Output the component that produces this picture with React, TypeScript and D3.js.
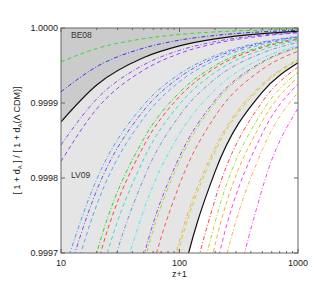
import React, { useEffect } from 'react';
import * as d3 from 'd3';

// z+1 sample positions shared by every curve
const zGrid = [10, 20, 50, 100, 200, 500, 1000];

// bounding curves of the shaded bands
const be08Bound = [0.9998749, 0.999924, 0.9999606, 0.9999761, 0.9999855, 0.9999925, 0.9999955];
const lv09Bound = [0.997332, 0.998548, 0.9993523, 0.9996478, 0.9998088, 0.9999146, 0.9999536];

// model curves (values at zGrid)
const curveValues = [
  [0.9999549, 0.9999726, 0.9999858, 0.9999914, 0.9999948, 0.9999973, 0.9999984],
  [0.999915, 0.9999484, 0.9999733, 0.9999838, 0.9999901, 0.9999949, 0.9999969],
  [0.9998441, 0.9999053, 0.999951, 0.9999702, 0.9999819, 0.9999906, 0.9999943],
  [0.9998221, 0.999892, 0.999944, 0.999966, 0.9999794, 0.9999893, 0.9999935],
  [0.9996633, 0.9997982, 0.9998976, 0.9999387, 0.9999633, 0.9999814, 0.9999889],
  [0.9996388, 0.9997835, 0.9998902, 0.9999342, 0.9999607, 0.99998, 0.999988],
  [0.9996062, 0.999764, 0.9998803, 0.9999283, 0.9999571, 0.9999782, 0.999987],
  [0.9994827, 0.9996993, 0.9998525, 0.9999141, 0.99995, 0.9999755, 0.9999858],
  [0.9994501, 0.9996803, 0.9998432, 0.9999086, 0.9999468, 0.9999739, 0.9999849],
  [0.9993883, 0.9996445, 0.9998256, 0.9998984, 0.9999409, 0.999971, 0.9999832],
  [0.9992976, 0.9995917, 0.9997997, 0.9998833, 0.9999321, 0.9999667, 0.9999807],
  [0.9991488, 0.9995052, 0.9997573, 0.9998586, 0.9999177, 0.9999597, 0.9999766],
  [0.998839, 0.9993472, 0.9996952, 0.9998283, 0.9999035, 0.9999548, 0.9999746],
  [0.998798, 0.9993241, 0.9996844, 0.9998222, 0.9999001, 0.9999532, 0.9999737],
  [0.998588, 0.9992059, 0.9996292, 0.9997911, 0.9998826, 0.999945, 0.9999691],
  [0.998081, 0.998921, 0.999496, 0.9997161, 0.9998404, 0.9999252, 0.999958],
  [0.998021, 0.998887, 0.9994804, 0.9997073, 0.9998355, 0.9999229, 0.9999567],
  [0.996402, 0.998097, 0.9991836, 0.9995674, 0.9997717, 0.9999017, 0.999948],
  [0.995924, 0.997844, 0.9990753, 0.99951, 0.9997414, 0.9998887, 0.9999411],
  [0.995454, 0.997595, 0.998969, 0.9994534, 0.9997116, 0.9998758, 0.9999343],
  [0.994852, 0.997277, 0.998832, 0.999381, 0.9996734, 0.9998594, 0.9999256],
  [0.994056, 0.996856, 0.998651, 0.9992853, 0.9996229, 0.9998376, 0.9999141],
  [0.9893, 0.99465, 0.99786, 0.99893, 0.999465, 0.999786, 0.999893],
];
const curveColors = [
  '#33dd33', '#3333ee', '#9944ee', '#9944ee', '#4d9fff', '#6655ee', '#55aaff',
  '#22dd22', '#ff4444', '#33dddd', '#6699ee', '#44eeee', '#9944ee', '#aadd22',
  '#ff5555', '#ffaa44', '#bbdd33', '#ff4444', '#aadd22', '#ffaa44', '#ff44dd',
  '#ffaa55', '#ff44ee',
];
const curveStyles = [
  'dash', 'dashdot', 'dashdot', 'dash', 'dashdot', 'dashdot', 'dash',
  'dashdot', 'dash', 'dash', 'dashdot', 'dashdot', 'dashdot', 'dashdot',
  'dash', 'dashdot', 'dash', 'dashdot', 'dashdot', 'dash', 'dash',
  'dashdot', 'dashdot',
];

const yTicks = [0.9997, 0.9998, 0.9999, 1.0];
const xTicks = [10, 100, 1000];

const W = 315, H = 295;
const M = { left: 61, right: 298, top: 28, bottom: 253 };

const App: React.FC = () => {
  useEffect(() => {
    document.body.style.margin = '0';
  }, []);

  const x = d3.scaleLog().domain([10, 1000]).range([M.left, M.right]);
  const y = d3.scaleLinear().domain([0.9997, 1.0]).range([M.bottom, M.top]);

  const line = d3.line<number>()
    .x((_, i) => x(zGrid[i]))
    .y(d => y(d))
    .curve(d3.curveMonotoneX);

  const topArea = d3.area<number>()
    .x((_, i) => x(zGrid[i]))
    .y0(() => y(1.0))
    .y1(d => y(d))
    .curve(d3.curveMonotoneX);

  const midArea = d3.area<number>()
    .x((_, i) => x(zGrid[i]))
    .y0((_, i) => y(be08Bound[i]))
    .y1(d => y(d))
    .curve(d3.curveMonotoneX);

  const dashes: Record<string, string> = { dash: '4,3', dashdot: '4,2,1,2' };

  const minorX: number[] = [];
  [10, 100].forEach(b => { for (let k = 2; k <= 9; k++) minorX.push(b * k); });

  const font = "'Liberation Sans', Arial, sans-serif";

  return (
    <svg width={W} height={H} style={{ display: 'block' }} fontFamily={font}>
      <defs>
        <clipPath id="plot">
          <rect x={M.left} y={M.top} width={M.right - M.left} height={M.bottom - M.top} />
        </clipPath>
      </defs>
      <g clipPath="url(#plot)">
        <path d={midArea(lv09Bound) || ''} fill="#e5e5e5" />
        <path d={topArea(be08Bound) || ''} fill="#cbcbcb" />
        {curveValues.map((vals, i) => (
          <path key={i} d={line(vals) || ''} fill="none" stroke={curveColors[i]}
            strokeWidth={1} strokeDasharray={dashes[curveStyles[i]]} />
        ))}
        <path d={line(be08Bound) || ''} fill="none" stroke="#111" strokeWidth={1.2} />
        <path d={line(lv09Bound) || ''} fill="none" stroke="#111" strokeWidth={1.2} />
      </g>

      <rect x={M.left} y={M.top} width={M.right - M.left} height={M.bottom - M.top}
        fill="none" stroke="#666" strokeWidth={1} />

      {yTicks.map(t => (
        <g key={t}>
          <line x1={M.left} x2={M.left + 4} y1={y(t)} y2={y(t)} stroke="#666" />
          <line x1={M.right} x2={M.right - 4} y1={y(t)} y2={y(t)} stroke="#666" />
          <text x={M.left - 3} y={y(t)} dy="0.35em" textAnchor="end" fontSize={9} fill="#222">
            {t.toFixed(4)}
          </text>
        </g>
      ))}
      {xTicks.map(t => (
        <g key={t}>
          <line x1={x(t)} x2={x(t)} y1={M.bottom} y2={M.bottom - 4} stroke="#666" />
          <line x1={x(t)} x2={x(t)} y1={M.top} y2={M.top + 4} stroke="#666" />
          <text x={x(t)} y={266} textAnchor="middle" fontSize={9} fill="#222">{t}</text>
        </g>
      ))}
      {minorX.map(t => (
        <g key={'m' + t}>
          <line x1={x(t)} x2={x(t)} y1={M.bottom} y2={M.bottom - 2} stroke="#666" />
          <line x1={x(t)} x2={x(t)} y1={M.top} y2={M.top + 2} stroke="#666" />
        </g>
      ))}

      <text x={(M.left + M.right) / 2} y={277} textAnchor="middle" fontSize={9} fill="#222">z+1</text>
      <text transform={`translate(20,${(M.top + M.bottom) / 2}) rotate(-90)`} textAnchor="middle"
        fontSize={9} fill="#222">
        [ 1 + d<tspan fontSize={6} dy={2}>A</tspan><tspan dy={-2}> ] / [ 1 + d</tspan>
        <tspan fontSize={6} dy={2}>A</tspan><tspan dy={-2}>(Λ CDM)]</tspan>
      </text>

      <text x={71} y={38} fontSize={8.5} fill="#333">BE08</text>
      <text x={71} y={178} fontSize={8.5} fill="#333">LV09</text>
    </svg>
  );
};

export default App;
